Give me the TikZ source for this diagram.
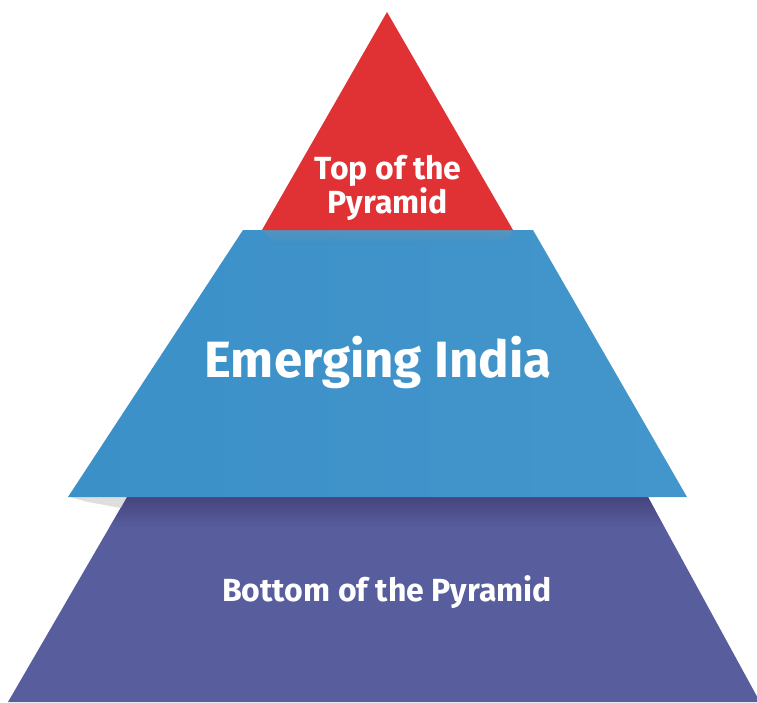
\documentclass[tikz,border=0pt]{standalone}
\usepackage{fontspec}
\setmainfont{Fira Sans}
\usetikzlibrary{calc}
\definecolor{pyrred}{HTML}{E03135}
\definecolor{pyrblue}{HTML}{3B90C8}
\definecolor{pyrbluelight}{HTML}{4396CB}
\definecolor{pyrpurple}{HTML}{575D9D}
\definecolor{pyrpurpledark}{HTML}{46447E}
\tikzset{
  lbl/.style={text=white, font=\bfseries, align=center, inner sep=0pt},
}
\begin{document}
\begin{tikzpicture}[x=1pt,y=-1pt]
\useasboundingbox[fill=white] (0,0) rectangle (757,702);
% bottom layer
\fill[pyrpurple] (127,497) -- (648,497) -- (760,702) -- (8,702) -- cycle;
\shade[top color=pyrpurpledark, bottom color=pyrpurple]
  (127,497) -- (648,497) -- (664,527) -- (110,527) -- cycle;
% shadow under blue on left
\fill[black!25, opacity=0.5] (70,497) -- (127,497) -- (121,508) -- (88,502) -- cycle;
% middle layer
\shade[left color=pyrblue, right color=pyrbluelight]
  (243,230) -- (533,230) -- (687,497) -- (68,497) -- cycle;
% shadow under red on blue
\shade[top color=black!40, bottom color=pyrblue, opacity=0.25]
  (262,230) -- (513,230) -- (505,244) -- (275,244) -- cycle;
% top layer
\fill[pyrred] (387,12) -- (513,230) -- (262,230) -- cycle;
% labels
\node[lbl, font=\bfseries\fontsize{32}{30}\selectfont] (top) at (388,188) {Top of the\\Pyramid};
\node[lbl, font=\bfseries\fontsize{51}{54}\selectfont] (mid) at (378,362) {Emerging India};
\node[lbl, font=\bfseries\fontsize{32}{34}\selectfont] (bot) at (387,592) {Bottom of the Pyramid};
\end{tikzpicture}
\end{document}
